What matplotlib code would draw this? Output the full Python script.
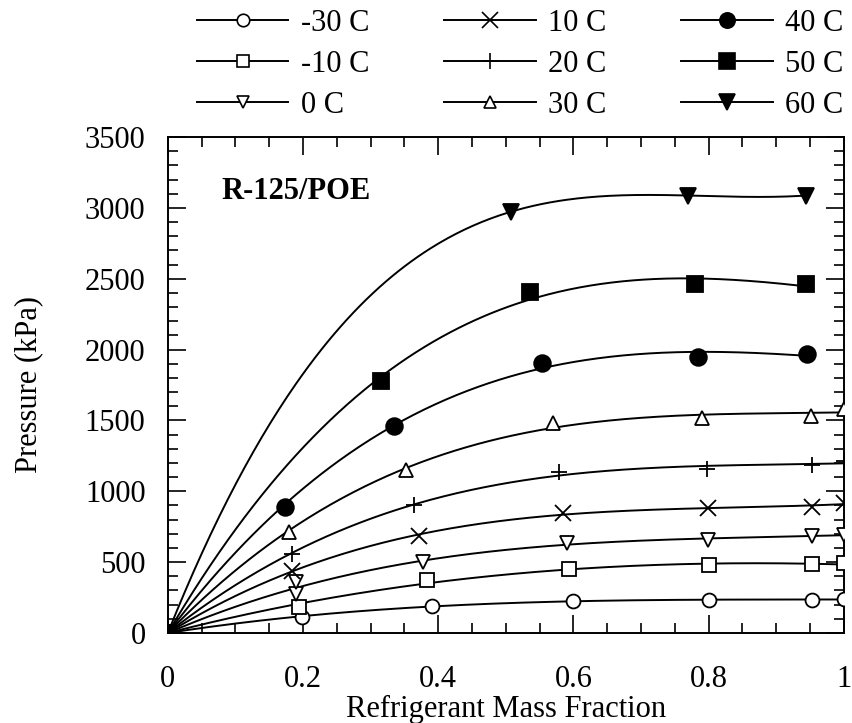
import numpy as np
import matplotlib.pyplot as plt
from matplotlib.ticker import MultipleLocator
from matplotlib.lines import Line2D

plt.rcParams['font.family'] = ['Liberation Serif', 'DejaVu Serif']

# refrigerant mass fraction / pressure (kPa)
x_m30 = [0, 0.198, 0.391, 0.599, 0.801, 0.953, 1.0]
p_m30 = [0, 112, 193, 224, 233, 233, 240]
x_m10 = [0, 0.194, 0.383, 0.593, 0.801, 0.953, 1.0]
p_m10 = [0, 182, 373, 449, 480, 484, 491]
x_0 = [0, 0.189, 0.189, 0.378, 0.590, 0.799, 0.953, 1.0]
p_0 = [0, 275, 361, 503, 636, 659, 682, 694]
x_10 = [0, 0.184, 0.372, 0.584, 0.799, 0.953, 1.0]
p_10 = [0, 438, 687, 845, 880, 887, 920]
x_20 = [0, 0.184, 0.364, 0.579, 0.798, 0.953, 1.0]
p_20 = [0, 554, 904, 1136, 1160, 1183, 1211]
x_30 = [0, 0.179, 0.352, 0.569, 0.79, 0.952, 1.0]
p_30 = [0, 713, 1153, 1480, 1520, 1534, 1578]
x_40 = [0, 0.174, 0.335, 0.553, 0.784, 0.946]
p_40 = [0, 892, 1464, 1904, 1946, 1970]
x_50 = [0, 0.315, 0.535, 0.780, 0.944]
p_50 = [0, 1778, 2403, 2461, 2461]
x_60 = [0, 0.507, 0.770, 0.944]
p_60 = [0, 2972, 3087, 3087]

labels = ['-30 C', '-10 C', '0 C', '10 C', '20 C', '30 C', '40 C', '50 C', '60 C']
xs = [x_m30, x_m10, x_0, x_10, x_20, x_30, x_40, x_50, x_60]
ps = [p_m30, p_m10, p_0, p_10, p_20, p_30, p_40, p_50, p_60]
markers = ['o', 's', 'v', 'x', '+', '^', 'o', 's', 'v']
filled = [False, False, False, False, False, False, True, True, True]


def fit_curve(x, y, xn, deg=3):
    # least squares polynomial forced through the origin
    x = np.asarray(x, float)
    y = np.asarray(y, float)
    A = np.column_stack([x**k for k in range(1, deg + 1)])
    c = np.linalg.lstsq(A, y, rcond=None)[0]
    return sum(c[k - 1] * xn**k for k in range(1, deg + 1))


fig = plt.figure(figsize=(8.52, 7.23), dpi=100)
ax = fig.add_axes([0.197, 0.1245, 0.7935, 0.686])

handles = []
for i in range(9):
    x = np.array(xs[i])
    p = np.array(ps[i])
    xf = np.linspace(0, x.max(), 300)
    ax.plot(xf, fit_curve(x, p, xf), color='black', lw=1.4, zorder=2)
    fc = 'black' if filled[i] else 'white'
    if markers[i] in ('x', '+'):
        ms = 12
    elif filled[i]:
        ms = 12
    else:
        ms = 10
    z = 5 if labels[i] == '50 C' else 3
    ax.plot(x, p, linestyle='none', marker=markers[i], ms=ms, mfc=fc,
            mec='black', mew=1.3, zorder=z)
    handles.append(Line2D([], [], color='black', lw=1.4, marker=markers[i],
                          ms=ms - 1, mfc=fc, mec='black', mew=1.2))

ax.set_xlim(0, 1)
ax.set_ylim(0, 3500)
ax.xaxis.set_minor_locator(MultipleLocator(0.05))
ax.yaxis.set_major_locator(MultipleLocator(500))
ax.yaxis.set_minor_locator(MultipleLocator(100))
ax.set_xticks([0, 0.2, 0.4, 0.6, 0.8, 1.0])
ax.set_xticklabels(['0', '0.2', '0.4', '0.6', '0.8', '1'])
ax.tick_params(which='both', direction='in', top=True, right=True,
               labelsize=22, width=1.2)
ax.tick_params(which='major', length=13)
ax.tick_params(which='minor', length=7)
ax.tick_params(axis='x', which='major', pad=23)
ax.tick_params(axis='y', which='major', pad=16)
for s in ax.spines.values():
    s.set_linewidth(1.4)

ax.set_xlabel('Refrigerant Mass Fraction', fontsize=22, labelpad=1)
ax.set_ylabel('Pressure (kPa)', fontsize=22, labelpad=30)
ax.text(0.08, 3112, 'R-125/POE', fontsize=22, fontweight='bold',
        va='center', ha='left')

fig.legend(handles, labels, loc='upper left', bbox_to_anchor=(0.231, 0.988),
           ncol=3, frameon=False, fontsize=22, handlelength=3.0,
           handletextpad=0.4, columnspacing=2.45, labelspacing=0.40,
           borderpad=0, borderaxespad=0, numpoints=1)

fig.savefig('out.png', dpi=100)
